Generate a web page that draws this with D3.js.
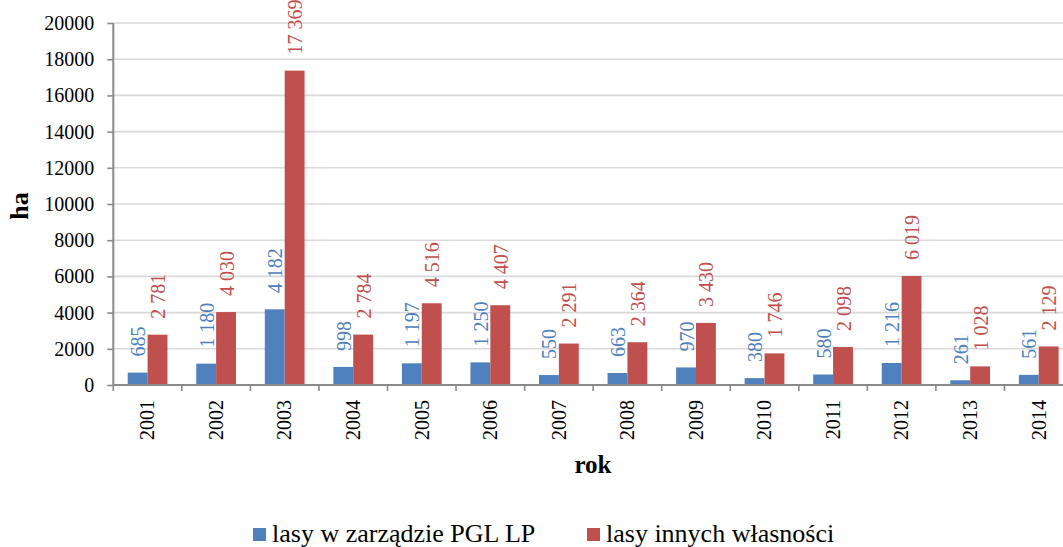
<!DOCTYPE html>
<html>
<head>
<meta charset="utf-8">
<script src="https://cdn.jsdelivr.net/npm/d3@7"></script>
<style>
body { margin: 0; background: #fff; }
</style>
</head>
<body>
<div id="chart"></div>
<script>
var width = 1063,
height = 547;
var serif = "'Liberation Serif', 'Times New Roman', serif";

// data
var years = ["2001", "2002", "2003", "2004", "2005", "2006", "2007", "2008", "2009", "2010", "2011", "2012", "2013", "2014"];
var seriesNames = ["lasy w zarządzie PGL LP", "lasy innych własności"];
var pglValues = [685, 1180, 4182, 998, 1197, 1250, 550, 663, 970, 380, 580, 1216, 261, 561];
var otherValues = [2781, 4030, 17369, 2784, 4516, 4407, 2291, 2364, 3430, 1746, 2098, 6019, 1028, 2129];
var yTicks = [0, 2000, 4000, 6000, 8000, 10000, 12000, 14000, 16000, 18000, 20000];
var colors = ["#4f81bd", "#c0504d"];

var rows = years.map(function (y, i) {
    return { year: y, values: [pglValues[i], otherValues[i]] };
});

var svg = d3.select("#chart").append("svg")
.attr("width", width)
.attr("height", height)
.style("font-family", serif);

var plotLeft = 113.3,
plotTop = 23,
plotBottom = 385,
band = 68.55;

var x = d3.scaleBand()
.domain(years)
.range([plotLeft, plotLeft + band * years.length]);

var x1 = d3.scaleBand()
.domain([0, 1])
.range([0.21 * band, 0.79 * band]);

var y = d3.scaleLinear()
.domain([0, 20000])
.range([plotBottom, plotTop]);

var fmt = d3.formatLocale({ decimal: ",", thousands: " ", grouping: [3], currency: ["", ""] }).format(",d");

// gridlines
svg.append("g")
.selectAll("line")
.data(yTicks.slice(1))
.join("line")
.attr("x1", plotLeft)
.attr("x2", width)
.attr("y1", function (d) { return y(d); })
.attr("y2", function (d) { return y(d); })
.attr("stroke", "#d9d9d9")
.attr("stroke-width", 1.6);

// y axis
var yAxis = svg.append("g")
.attr("transform", "translate(" + plotLeft + ",0)")
.call(d3.axisLeft(y).tickValues(yTicks).tickSize(6).tickPadding(13).tickFormat(d3.format("d")));
yAxis.attr("font-family", null).attr("font-size", null);
yAxis.selectAll("text").style("font-family", serif).style("font-size", "20px").attr("fill", "#000");
yAxis.selectAll("line").attr("stroke", "#898989").attr("stroke-width", 1.6);
yAxis.select(".domain").remove();
svg.append("line")
.attr("x1", plotLeft).attr("x2", plotLeft)
.attr("y1", plotTop).attr("y2", plotBottom)
.attr("stroke", "#898989").attr("stroke-width", 2);

// bars
var groups = svg.append("g")
.selectAll("g")
.data(rows)
.join("g")
.attr("transform", function (d) { return "translate(" + x(d.year) + ",0)"; });

groups.selectAll("rect")
.data(function (d) { return d.values; })
.join("rect")
.attr("x", function (d, i) { return x1(i); })
.attr("y", function (d) { return y(d); })
.attr("width", x1.bandwidth())
.attr("height", function (d) { return plotBottom - y(d); })
.attr("fill", function (d, i) { return colors[i]; });

// data labels
groups.selectAll("text")
.data(function (d) { return d.values; })
.join("text")
.attr("transform", function (d, i) {
    var cx = x1(i) + x1.bandwidth() / 2 + 7.5;
    return "translate(" + cx + "," + (y(d) - 16) + ") rotate(-90)";
})
.style("font-family", serif)
.style("font-size", "20px")
.attr("fill", function (d, i) { return colors[i]; })
.text(function (d) { return fmt(d); });

// x axis
svg.append("line")
.attr("x1", plotLeft).attr("x2", width)
.attr("y1", plotBottom).attr("y2", plotBottom)
.attr("stroke", "#898989").attr("stroke-width", 2);

svg.append("g")
.selectAll("line")
.data(years)
.join("line")
.attr("x1", function (d) { return x(d); })
.attr("x2", function (d) { return x(d); })
.attr("y1", plotBottom)
.attr("y2", plotBottom + 6)
.attr("stroke", "#898989")
.attr("stroke-width", 1.6);

svg.append("g")
.selectAll("text")
.data(years)
.join("text")
.attr("transform", function (d) {
    return "translate(" + (x(d) + x.bandwidth() / 2 + 6.8) + ",400) rotate(-90)";
})
.attr("text-anchor", "end")
.style("font-size", "20px")
.attr("fill", "#000")
.text(function (d) { return d; });

// axis titles
svg.append("text")
.attr("transform", "translate(28,206) rotate(-90)")
.attr("text-anchor", "middle")
.style("font-size", "26px")
.attr("font-weight", "bold")
.text("ha");

svg.append("text")
.attr("x", 593)
.attr("y", 473)
.attr("text-anchor", "middle")
.style("font-size", "25px")
.attr("font-weight", "bold")
.text("rok");

// legend
var legendX = [253, 587];
var legend = svg.append("g")
.selectAll("g")
.data(seriesNames)
.join("g")
.attr("transform", function (d, i) { return "translate(" + legendX[i] + ",528)"; });

legend.append("rect")
.attr("width", 13)
.attr("height", 13)
.attr("fill", function (d, i) { return colors[i]; });

legend.append("text")
.attr("x", 19)
.attr("y", 14)
.style("font-size", "26px")
.attr("fill", "#000")
.text(function (d) { return d; });
</script>
</body>
</html>
